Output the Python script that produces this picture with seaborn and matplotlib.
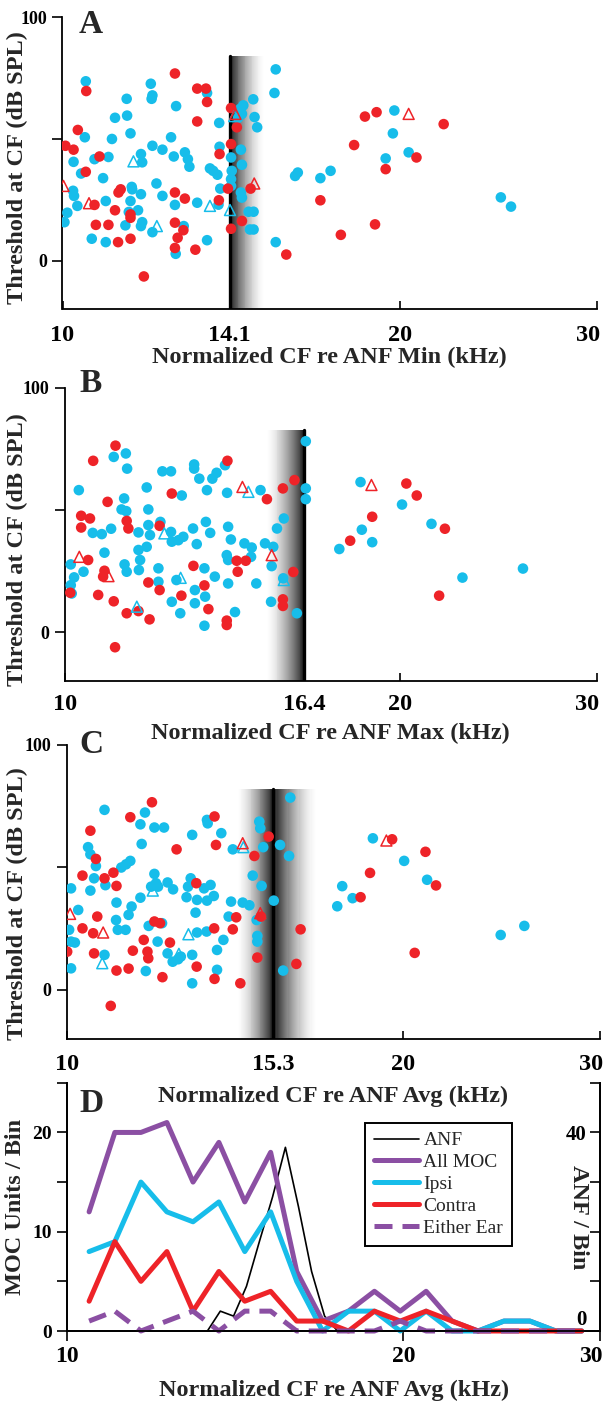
import matplotlib
matplotlib.use("Agg")
import numpy as np
import matplotlib.pyplot as plt
import seaborn as sns
from matplotlib.ticker import NullLocator
from matplotlib.transforms import ScaledTranslation

sns.set_theme(style="ticks")
plt.rcParams["font.family"] = ["Liberation Serif", "DejaVu Serif"]
plt.rcParams["font.weight"] = "bold"
plt.rcParams["axes.labelweight"] = "bold"

CYAN = "#17bdea"
RED = "#ee2328"
PURPLE = "#8b4fa3"

# ---------------- Panel A: normalized re ANF min (14.1 kHz) ----------------
a_ipsi_cf = [10.49, 10.47, 10.23, 10.39, 10.04, 10.10, 10.24, 10.31, 10.22, 10.68, 10.87, 10.93, 10.99, 10.62,
             10.93, 11.07, 11.14, 11.41, 11.42, 11.50, 11.53, 11.50, 11.54, 11.75, 11.78, 11.75, 11.68, 11.75,
             11.78, 12.03, 11.99, 12.03, 12.01, 12.03, 12.13, 12.28, 12.28, 12.50, 12.57, 12.63, 12.60, 12.62,
             12.83, 12.86, 12.94, 12.98, 13.19, 13.46, 13.46, 13.54, 13.63, 13.75, 13.80, 13.81, 13.83, 13.78,
             14.14, 14.16, 14.14, 14.41, 14.46, 14.50, 14.43, 14.46, 14.43, 14.46, 14.66, 14.81, 14.80, 14.84,
             14.92, 14.70, 14.81, 11.38, 11.46, 14.35, 15.50, 15.46, 15.50, 16.22, 16.13, 16.99, 17.35, 19.78,
             19.72, 19.43, 20.37, 24.62, 25.14, 14.14]
a_ipsi_thr = [73.7, 50.7, 40.6, 35.8, 15.8, 19.7, 26.6, 22.5, 28.7, 41.7, 33.9, 24.5, 42.6, 9.0,
              7.6, 50.0, 58.7, 66.5, 59.6, 52.3, 30.3, 24.5, 29.3, 43.8, 40.4, 27.3, 20.7, 14.2,
              15.8, 11.7, 72.7, 67.9, 66.5, 47.2, 31.7, 26.6, 45.6, 50.7, 42.8, 63.5, 22.9, 2.8,
              14.2, 44.5, 41.7, 38.6, 23.8, 8.4, 68.9, 37.9, 36.9, 35.3, 56.6, 46.8, 29.6, 23.0,
              42.4, 36.9, 30.7, 62.4, 60.3, 63.8, 45.6, 39.4, 28.0, 25.9, 20.1, 20.1, 66.3, 59.0,
              54.8, 12.8, 12.8, 14.5, 20.0, 58.7, 78.6, 68.9, 7.6, 36.2, 34.8, 33.9, 36.9, 61.7,
              52.3, 42.0, 44.5, 26.0, 22.2, 33.5]
a_contra_cf = [10.50, 10.32, 10.06, 10.23, 10.49, 10.79, 10.71, 10.99, 10.68, 11.22, 11.27, 11.14, 11.21, 11.50,
               11.50, 11.50, 11.82, 12.60, 13.19, 13.43, 13.46, 13.19, 12.60, 12.86, 12.60, 12.82, 12.67, 12.60,
               13.14, 13.81, 13.79, 14.05, 14.14, 14.31, 14.14, 14.14, 14.46, 14.72, 15.84, 17.72, 16.99, 18.21,
               18.62, 19.07, 19.01, 19.43, 20.70, 21.89]
a_contra_thr = [69.7, 53.7, 47.2, 45.6, 36.5, 42.8, 14.7, 14.7, 22.9, 28.0, 29.3, 20.7, 7.6, 19.0,
                17.6, 9.0, -6.5, 76.9, 70.7, 70.7, 65.2, 57.2, 28.0, 25.5, 15.6, 12.5, 9.4, 5.2,
                4.5, 43.8, 24.8, 29.6, 62.7, 54.8, 47.9, 13.1, 16.3, 29.6, 2.5, 10.6, 24.8, 47.5,
                59.2, 61.0, 14.9, 37.6, 42.4, 56.1]
a_tri_ipsi_cf = [11.57, 12.14, 13.54, 14.11, 14.23]
a_tri_ipsi_thr = [40.8, 14.2, 22.5, 20.8, 59.4]
a_tri_contra_cf = [10.02, 10.56, 14.83, 14.27, 20.37]
a_tri_contra_thr = [30.7, 23.6, 31.7, 60.3, 60.3]

# ---------------- Panel B: normalized re ANF max (16.4 kHz) ----------------
b_ipsi_cf = [10.29, 10.12, 10.19, 10.12, 10.14, 10.39, 10.59, 10.79, 11.00, 10.85, 11.06, 11.34, 11.37, 11.30,
             11.24, 11.35, 11.31, 11.36, 11.64, 11.64, 11.68, 11.84, 11.88, 11.88, 11.92, 11.84, 12.13, 12.18,
             12.23, 12.45, 12.47, 12.64, 12.77, 12.73, 12.45, 12.59, 12.69, 12.47, 13.06, 13.06, 13.20, 13.41,
             13.56, 13.68, 13.92, 13.98, 13.03, 13.38, 13.50, 13.13, 13.34, 13.63, 13.08, 13.36, 13.08, 13.34,
             14.01, 14.09, 13.97, 14.01, 14.01, 14.21, 14.49, 14.71, 14.69, 14.85, 14.98, 15.12, 15.38, 15.33,
             15.31, 15.50, 15.72, 15.70, 16.15, 16.45, 16.45, 16.45, 12.13, 11.65, 18.42, 18.47, 18.87, 17.63,
             20.07, 21.33, 22.74, 25.77]
b_ipsi_thr = [58.2, 27.8, 22.5, 19.3, 15.9, 24.8, 40.7, 40.2, 42.4, 32.6, 71.8, 73.2, 67.0, 54.8,
              50.3, 49.6, 27.8, 24.8, 40.9, 33.7, 29.6, 59.3, 50.3, 43.9, 39.8, 35.0, 26.2, 45.2,
              65.9, 65.9, 37.1, 37.7, 39.1, 56.0, 41.1, 21.4, 7.8, 12.5, 68.7, 67.0, 62.9, 58.2,
              62.9, 65.3, 68.4, 57.1, 42.5, 45.2, 40.7, 36.1, 26.2, 22.8, 17.3, 14.6, 11.9, 2.7,
              43.2, 38.0, 31.6, 29.6, 20.0, 8.3, 36.4, 34.7, 30.9, 20.0, 58.2, 36.4, 35.0, 27.1,
              12.5, 42.5, 46.6, 22.1, 7.8, 78.2, 58.9, 54.5, 20.7, 25.5, 61.5, 42.0, 36.9, 34.1,
              52.3, 44.4, 22.4, 26.1]
b_contra_cf = [10.60, 11.10, 10.92, 10.34, 10.53, 10.34, 11.36, 11.40, 12.47, 12.16, 10.49, 10.85, 10.82, 10.71,
               11.06, 11.36, 11.64, 11.91, 11.88, 12.16, 13.04, 13.34, 12.72, 13.45, 13.97, 13.97, 14.26, 14.53,
               14.29, 13.99, 15.18, 15.69, 16.07, 16.03, 15.69, 15.69, 11.09, 10.11, 18.03, 18.87, 20.25, 20.69,
               21.93, 21.67]
b_contra_thr = [70.2, 76.4, 53.4, 47.7, 46.6, 42.9, 45.6, 42.5, 56.8, 43.6, 29.6, 25.2, 22.8, 15.3,
                12.7, 7.8, 8.7, 5.3, 20.4, 17.3, 27.2, 19.2, 15.0, 9.5, 4.8, 3.0, 29.3, 29.3,
                24.8, 70.2, 54.5, 58.9, 62.3, 24.7, 13.5, 10.8, -6.1, 16.2, 37.5, 47.3, 60.9, 56.0,
                42.4, 15.0]
b_tri_ipsi_cf = [12.28, 12.70, 11.60, 14.61, 15.72]
b_tri_ipsi_thr = [40.5, 22.3, 10.5, 57.5, 21.4]
b_tri_contra_cf = [10.30, 10.94, 14.43, 15.33, 18.84]
b_tri_contra_thr = [30.9, 23.0, 59.5, 31.6, 60.3]

# ---------------- Panel C: normalized re ANF average (15.3 kHz) ----------------
c_ipsi_cf = [10.81, 10.09, 10.50, 10.24, 10.05, 10.09, 10.17, 10.45, 10.50, 10.62, 10.58, 10.83, 11.08, 11.07,
             11.11, 11.29, 11.43, 11.36, 11.19, 11.30, 11.40, 11.64, 11.75, 11.67, 11.98, 12.22, 11.64, 11.98,
             12.02, 12.07, 12.31, 12.45, 11.90, 11.84, 12.06, 12.17, 12.31, 12.44, 12.58, 12.65, 12.95, 12.91,
             12.84, 12.80, 13.04, 13.08, 13.27, 13.45, 13.54, 13.35, 13.37, 13.75, 13.35, 13.08, 13.34, 12.95,
             12.95, 13.63, 13.81, 14.03, 14.37, 14.57, 14.67, 14.79, 14.81, 14.81, 14.94, 14.87, 14.90, 14.99,
             13.96, 14.08, 15.52, 15.81, 15.85, 15.32, 15.62, 10.81, 10.09, 11.77, 13.63, 18.79, 20.04, 17.64,
             17.46, 18.02, 21.01, 24.45, 25.67]
c_ipsi_thr = [73.4, 41.4, 40.5, 32.6, 24.5, 19.7, 19.3, 58.2, 55.3, 50.5, 45.5, 42.7, 35.6, 28.5,
              24.5, 24.5, 34.0, 30.6, 49.9, 51.2, 52.6, 67.5, 72.3, 59.5, 66.2, 66.2, 37.6, 47.3,
              43.5, 42.1, 43.8, 41.0, 42.1, 26.1, 19.7, 27.2, 14.9, 11.5, 12.5, 13.6, 63.2, 45.5,
              42.1, 37.8, 31.5, 36.7, 41.4, 42.8, 38.3, 36.4, 67.9, 63.9, 69.3, 23.4, 23.8, 14.3,
              2.7, 16.3, 20.4, 36.0, 35.6, 34.5, 46.6, 28.5, 22.0, 19.7, 42.4, 68.6, 65.9, 58.2,
              29.9, 57.3, 59.1, 54.6, 78.4, 36.4, 7.9, 14.3, 8.8, 7.7, 8.2, 61.8, 52.6, 42.3,
              34.1, 37.4, 44.9, 22.4, 26.1]
c_contra_cf = [11.92, 11.40, 10.50, 10.62, 10.33, 10.81, 11.01, 11.08, 12.54, 13.06, 13.56, 13.60, 14.72, 15.16,
               10.65, 10.33, 10.56, 10.01, 10.58, 11.08, 11.36, 11.46, 11.72, 11.81, 11.83, 11.98, 12.12, 12.18,
               12.37, 13.07, 13.55, 13.56, 14.08, 14.18, 14.30, 14.92, 14.81, 16.19, 16.05, 10.95, 19.55, 18.68,
               18.32, 20.94, 21.40, 20.48]
c_contra_thr = [76.5, 70.4, 64.9, 53.4, 46.6, 45.5, 47.8, 42.4, 57.3, 43.5, 70.7, 59.1, 54.6, 62.5,
                29.9, 25.1, 23.1, 15.6, 14.9, 7.9, 8.7, 16.0, 20.4, 15.6, 12.9, 27.9, 27.2, 5.2,
                19.3, 9.5, 25.1, 4.5, 24.7, 29.6, 2.7, 29.9, 13.2, 24.7, 10.6, -6.5, 61.4, 47.7,
                37.8, 56.3, 42.6, 15.1]
c_tri_ipsi_cf = [11.94, 12.85, 12.60, 10.76, 14.39]
c_tri_ipsi_thr = [40.5, 22.7, 14.7, 10.9, 58.2]
c_tri_contra_cf = [10.07, 10.78, 14.37, 14.90, 19.32]
c_tri_contra_thr = [31.0, 23.4, 59.8, 31.3, 60.9]

# ANF reference frequency and shading extents (kHz) per panel
ref_labels = ["14.1", "16.4", "15.3"]
ref_cf = [14.1, 16.4, 15.3]
shade_lo = [14.1, 15.15, 14.2]
shade_hi = [15.15, 16.4, 16.75]
shade_top = [84, 83, 82]

# ---------------- Panel D: histograms ----------------
bin_cf = [10.46, 11.03, 11.64, 12.28, 12.96, 13.67, 14.42, 15.21, 16.05, 16.93,
          17.86, 18.84, 19.87, 20.96, 22.11, 23.33, 24.61, 25.96, 27.39, 28.89]
all_moc = [12, 20, 20, 21, 15, 19, 13, 18, 6, 1, 2, 4, 2, 4, 1, 0, 1, 1, 0, 0]
ipsi_n = [8, 9, 15, 12, 11, 13, 8, 12, 5, 0, 2, 2, 0, 2, 0, 0, 1, 1, 0, 0]
contra_n = [3, 9, 5, 8, 2, 6, 3, 4, 1, 1, 0, 2, 1, 2, 1, 0, 0, 0, 0, 0]
either_n = [1, 2, 0, 1, 2, 0, 2, 2, 0, 0, 0, 0, 1, 0, 0, 0, 0, 0, 0, 0]
anf_cf = [13.35, 13.71, 14.09, 14.47, 14.86, 15.27, 15.68, 16.11, 16.55, 17.00, 17.46]
anf_n = [0, 4, 3, 9, 18, 27, 37, 25, 12, 3, 0]

xlabels = ["Normalized CF re ANF Min (kHz)", "Normalized CF re ANF Max (kHz)",
           "Normalized CF re ANF Avg (kHz)", "Normalized CF re ANF Avg (kHz)"]
panel_letters = ["A", "B", "C", "D"]

# ---------------- figure ----------------
W, H = 608, 1401
fig = plt.figure(figsize=(W / 100, H / 100), dpi=100)


def add_ax(left, right, top, bottom):
    return fig.add_axes([left / W, 1 - bottom / H, (right - left) / W, (bottom - top) / H])


YMIN, YMAX = -20, 100


def shade(ax, lo, center, hi, top, n=40):
    ymax = (top - YMIN) / (YMAX - YMIN)
    for a, b in ((lo, center), (center, hi)):
        if b <= a:
            continue
        far = a if b == center else b
        edges = np.geomspace(a, b, n + 1)
        for i in range(n):
            mid = np.sqrt(edges[i] * edges[i + 1])
            p = abs(np.log(mid / center)) / abs(np.log(far / center))
            dark = 0.9 * (1 - p) ** 1.6
            ax.axvspan(edges[i], edges[i + 1] * 1.0015, ymin=0, ymax=ymax,
                       color=str(1 - dark), lw=0, zorder=1)
    ax.axvline(center, ymin=0, ymax=ymax, color="black", lw=2.4, zorder=1.5)


def right_align_last(ax):
    labs = ax.get_xticklabels()
    labs[-1].set_horizontalalignment("right")
    labs[-1].set_transform(labs[-1].get_transform() + ScaledTranslation(2 / 72, 0, fig.dpi_scale_trans))


boxes = [(62.5, 597, 17.3, 309.3), (65, 596.5, 388, 681.2), (66.7, 600, 744.6, 1039)]
scatter_sets = [
    (a_ipsi_cf, a_ipsi_thr, a_contra_cf, a_contra_thr, a_tri_ipsi_cf, a_tri_ipsi_thr, a_tri_contra_cf, a_tri_contra_thr),
    (b_ipsi_cf, b_ipsi_thr, b_contra_cf, b_contra_thr, b_tri_ipsi_cf, b_tri_ipsi_thr, b_tri_contra_cf, b_tri_contra_thr),
    (c_ipsi_cf, c_ipsi_thr, c_contra_cf, c_contra_thr, c_tri_ipsi_cf, c_tri_ipsi_thr, c_tri_contra_cf, c_tri_contra_thr),
]
xlab_off = [0.128, 0.143, 0.158]
tick_pad = [11.5, 9, 10.5]
ylab_x = [-0.064, -0.069, -0.072]
ylab_y = [0.487, 0.45, 0.46]
letter_base = [33, 392, 753, 1112]

for k in range(3):
    ax = add_ax(*boxes[k])
    ax.set_xscale("log")
    ax.set_xlim(10, 30)
    ax.set_ylim(YMIN, YMAX)
    shade(ax, shade_lo[k], ref_cf[k], shade_hi[k], shade_top[k])
    icf, ithr, ccf, cthr, ticf, tithr, tccf, tcthr = scatter_sets[k]
    sns.scatterplot(x=icf, y=ithr, ax=ax, color=CYAN, s=58, edgecolor="none", linewidth=0, zorder=3)
    sns.scatterplot(x=ccf, y=cthr, ax=ax, color=RED, s=58, edgecolor="none", linewidth=0, zorder=3)
    sns.scatterplot(x=ticf, y=tithr, ax=ax, marker="^", s=62, facecolor="none", edgecolor=CYAN,
                    linewidth=1.1, zorder=4)
    sns.scatterplot(x=tccf, y=tcthr, ax=ax, marker="^", s=62, facecolor="none", edgecolor=RED,
                    linewidth=1.1, zorder=4)
    for s in ("top", "right"):
        ax.spines[s].set_visible(False)
    for s in ("left", "bottom"):
        ax.spines[s].set_linewidth(1.3)
        ax.spines[s].set_color("black")
    ax.set_xticks([10, ref_cf[k], 20, 30])
    ax.set_xticklabels(["10", ref_labels[k], "20", "30"])
    ax.xaxis.set_minor_locator(NullLocator())
    ax.set_yticks([0, 50, 100])
    ax.set_yticklabels(["0", "", "100"])
    ax.tick_params(axis="x", direction="in", length=6, width=1.2, labelsize=17.5, pad=tick_pad[k], colors="black")
    ax.tick_params(axis="y", direction="out", length=7, width=1.2, labelsize=13, pad=4, colors="black")
    right_align_last(ax)
    ax.set_xlabel(xlabels[k], fontsize=17.5)
    ax.xaxis.set_label_coords(0.5, -xlab_off[k])
    ax.set_ylabel("Threshold at CF (dB SPL)", fontsize=17.5)
    ax.yaxis.set_label_coords(ylab_x[k], ylab_y[k])
    ax.set_facecolor("white")
    fig.text(79 / W, 1 - letter_base[k] / H, panel_letters[k], fontsize=24, fontweight="bold",
             va="baseline", ha="left")

# ---------------- Panel D ----------------
axD = add_ax(67.3, 600, 1082.8, 1331)
ax2 = axD.twinx()
axD.set_zorder(ax2.get_zorder() + 1)
axD.patch.set_visible(False)
for a in (axD, ax2):
    a.set_xscale("log")
    a.set_xlim(10, 30)
axD.set_ylim(0, 25)
ax2.set_ylim(0, 50)

sns.lineplot(x=anf_cf, y=anf_n, ax=ax2, color="black", lw=1.2, label="ANF", legend=False,
             sort=False, clip_on=False)
sns.lineplot(x=bin_cf, y=all_moc, ax=axD, color=PURPLE, lw=3.6, label="All MOC", legend=False,
             sort=False, clip_on=False)
sns.lineplot(x=bin_cf, y=ipsi_n, ax=axD, color=CYAN, lw=3.6, label="Ipsi", legend=False,
             sort=False, clip_on=False)
sns.lineplot(x=bin_cf, y=contra_n, ax=axD, color=RED, lw=3.6, label="Contra", legend=False,
             sort=False, clip_on=False)
sns.lineplot(x=bin_cf, y=either_n, ax=axD, color=PURPLE, lw=3.6, label="Either Ear", legend=False,
             sort=False, clip_on=False, linestyle=(0, (3.6, 2.0)))

axD.spines["top"].set_visible(False)
ax2.spines["top"].set_visible(False)
for s in ("left", "bottom", "right"):
    axD.spines[s].set_linewidth(1.3)
    axD.spines[s].set_color("black")
    ax2.spines[s].set_linewidth(1.3)
    ax2.spines[s].set_color("black")

axD.set_xticks([10, 20, 30])
axD.set_xticklabels(["10", "20", "30"])
axD.xaxis.set_minor_locator(NullLocator())
ax2.xaxis.set_minor_locator(NullLocator())
axD.set_yticks([0, 5, 10, 15, 20, 25])
axD.set_yticklabels(["0", "", "10", "", "20", ""])
axD.tick_params(axis="x", direction="out", length=7, width=1.2, labelsize=17, pad=4, colors="black")
axD.tick_params(axis="y", direction="out", length=7, width=1.2, labelsize=14, pad=4, colors="black")
right_align_last(axD)
axD.set_xlabel(xlabels[3], fontsize=17.5)
axD.xaxis.set_label_coords(0.5, -0.195)
axD.set_ylabel("MOC Units / Bin", fontsize=17.5)
axD.yaxis.set_label_coords(-0.078, 0.5)

ax2.set_yticks([0, 10, 20, 30, 40, 50])
ax2.set_yticklabels(["0", "", "", "", "40", ""])
ax2.tick_params(axis="y", direction="in", length=7, width=1.2, labelsize=15, pad=-9.5, colors="black")
ax2.set_ylabel("")
for lab in ax2.get_yticklabels():
    lab.set_horizontalalignment("right")
zero_lab = ax2.get_yticklabels()[0]
zero_lab.set_transform(zero_lab.get_transform() + ScaledTranslation(0, 10 / 72, fig.dpi_scale_trans))
axD.text(0.959, 0.457, "ANF / Bin", transform=axD.transAxes, rotation=270, fontsize=17.5,
         fontweight="bold", ha="center", va="center")

h1, l1 = ax2.get_legend_handles_labels()
h2, l2 = axD.get_legend_handles_labels()
leg = axD.legend(h1 + h2, l1 + l2, loc="upper left", bbox_to_anchor=(0.559, 0.838), borderaxespad=0,
                 frameon=True, fancybox=False, edgecolor="black", framealpha=1,
                 prop={"weight": "normal", "size": 14}, handlelength=2.3, labelspacing=0.22,
                 borderpad=0.45, handletextpad=0.25)
leg.get_frame().set_linewidth(1.4)
fig.text(79 / W, 1 - letter_base[3] / H, panel_letters[3], fontsize=24, fontweight="bold",
         va="baseline", ha="left")

fig.savefig("out.png", dpi=100, facecolor="white")
